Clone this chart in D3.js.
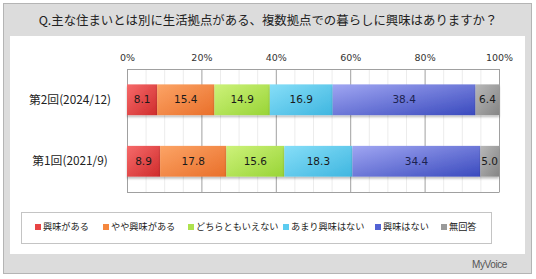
<!DOCTYPE html>
<html>
<head>
<meta charset="utf-8">
<script src="https://cdn.jsdelivr.net/npm/d3@7"></script>
<style>
  body { margin: 0; background: #fff; }
  svg { display: block; }
</style>
</head>
<body>
<script>
// data
var title = "Q.主な住まいとは別に生活拠点がある、複数拠点での暮らしに興味はありますか？";
var categories = ["第2回(2024/12)", "第1回(2021/9)"];
var seriesNames = ["興味がある", "やや興味がある", "どちらともいえない", "あまり興味はない", "興味はない", "無回答"];
var round2 = [8.1, 15.4, 14.9, 16.9, 38.4, 6.4];
var round1 = [8.9, 17.8, 15.6, 18.3, 34.4, 5.0];
var tickValues = [0, 20, 40, 60, 80, 100];

// light / dark ends of each bar gradient
var colLight = ["#f66a6a", "#fca466", "#cdf27a", "#86def8", "#a0a6f2", "#b8b8b8"];
var colDark = ["#cf2c2c", "#e96f2a", "#98d436", "#3fb6e0", "#3a4abe", "#858585"];
var swatch = ["#e84444", "#f5873e", "#aee24e", "#5cccf0", "#5262d4", "#9a9a9a"];

var width = 536, height = 279;
var rows = [round2, round1];

var svg = d3.select("body").append("svg")
    .attr("width", width)
    .attr("height", height);

var defs = svg.append("defs");
seriesNames.forEach(function(s, i) {
    var g = defs.append("linearGradient")
        .attr("id", "grad" + i)
        .attr("x1", "0%").attr("y1", "0%")
        .attr("x2", "100%").attr("y2", "100%");
    g.append("stop").attr("offset", "0%").attr("stop-color", colLight[i]);
    g.append("stop").attr("offset", "100%").attr("stop-color", colDark[i]);
});
var shadow = defs.append("filter").attr("id", "shadow")
    .attr("x", "-5%").attr("y", "-20%").attr("width", "110%").attr("height", "160%");
shadow.append("feDropShadow")
    .attr("dx", 0).attr("dy", 2).attr("stdDeviation", 1.2)
    .attr("flood-color", "#000").attr("flood-opacity", 0.25);

// frame
svg.append("rect")
    .attr("x", 3.5).attr("y", 3.5)
    .attr("width", 528).attr("height", 270)
    .attr("fill", "#dcdcdc")
    .attr("stroke", "#b4b4b4");
svg.append("rect")
    .attr("x", 10).attr("y", 36)
    .attr("width", 515).attr("height", 218)
    .attr("fill", "#fff");

svg.append("text")
    .attr("x", 268).attr("y", 25)
    .attr("text-anchor", "middle")
    .attr("font-family", "'Noto Sans CJK JP', sans-serif")
    .attr("font-size", 12.4)
    .attr("fill", "#222")
    .text(title);

// plot area
var plot = {left: 127, right: 499, top: 69, bottom: 192};

var x = d3.scaleLinear()
    .domain([0, 100])
    .range([plot.left, plot.right]);

var y = d3.scaleBand()
    .domain(categories)
    .range([plot.top, plot.bottom])
    .paddingInner(0.5)
    .paddingOuter(0.25);

// minor grid every 5%
svg.append("g")
    .selectAll("line")
    .data(d3.range(5, 100, 5).filter(function(d) { return d % 20 != 0; }))
    .enter()
    .append("line")
    .attr("x1", function(d) { return x(d) + 0.5; })
    .attr("x2", function(d) { return x(d) + 0.5; })
    .attr("y1", plot.top)
    .attr("y2", plot.bottom)
    .attr("stroke", "#ececec");

// major grid + axis labels on top
var xAxis = d3.axisTop(x)
    .tickValues(tickValues)
    .tickSize(-(plot.bottom - plot.top))
    .tickPadding(8)
    .tickFormat(function(d) { return d + "%"; });

var axisG = svg.append("g")
    .attr("transform", "translate(0," + plot.top + ")")
    .call(xAxis);
axisG.select(".domain").remove();
axisG.selectAll(".tick line")
    .attr("stroke", "#a0a0a0");
axisG.selectAll(".tick text")
    .attr("font-family", "'DejaVu Sans', Verdana, sans-serif")
    .attr("font-size", 9.5)
    .attr("fill", "#333");

// plot border lines
svg.append("line")
    .attr("x1", plot.left).attr("x2", plot.right + 0.5)
    .attr("y1", plot.bottom + 0.5).attr("y2", plot.bottom + 0.5)
    .attr("stroke", "#a0a0a0");
svg.append("line")
    .attr("x1", plot.left + 0.5).attr("x2", plot.right + 0.5)
    .attr("y1", plot.top + 0.5).attr("y2", plot.top + 0.5)
    .attr("stroke", "#a0a0a0");

// stacked bars
var rowG = svg.selectAll("g.row")
    .data(rows)
    .enter()
    .append("g")
    .attr("class", "row")
    .attr("transform", function(d, i) {
        return "translate(0," + y(categories[i]) + ")";
    });

var segs = rowG.selectAll("g.seg")
    .data(function(d) {
        var acc = 0;
        return d.map(function(v, j) {
            var s = {start: acc, value: v, idx: j};
            acc += v;
            return s;
        });
    })
    .enter()
    .append("g")
    .attr("class", "seg");

segs.append("rect")
    .attr("x", function(d) { return x(d.start); })
    .attr("y", 0)
    .attr("width", function(d) { return x(d.start + d.value) - x(d.start); })
    .attr("height", y.bandwidth())
    .attr("fill", function(d) { return "url(#grad" + d.idx + ")"; })
    .attr("filter", "url(#shadow)");

segs.append("text")
    .attr("x", function(d) { return x(d.start + d.value / 2); })
    .attr("y", y.bandwidth() / 2)
    .attr("dy", "0.35em")
    .attr("text-anchor", "middle")
    .attr("font-family", "'DejaVu Sans', Verdana, sans-serif")
    .attr("font-size", 10.5)
    .attr("fill", function(d) { return d.idx == 4 ? "#1c2350" : "#1a1a1a"; })
    .text(function(d) { return d.value.toFixed(1); });

// category labels
svg.selectAll("text.cat")
    .data(categories)
    .enter()
    .append("text")
    .attr("class", "cat")
    .attr("x", 70)
    .attr("y", function(d) { return y(d) + y.bandwidth() / 2; })
    .attr("dy", "0.35em")
    .attr("text-anchor", "middle")
    .attr("font-family", "'Noto Sans CJK JP', sans-serif")
    .attr("font-size", 11.8)
    .attr("fill", "#222")
    .text(function(d) { return d; });

// legend
svg.append("rect")
    .attr("x", 21.5).attr("y", 212.5)
    .attr("width", 470).attr("height", 31)
    .attr("fill", "#fff")
    .attr("stroke", "#c4c4c4");

var legendX = [35, 103, 188, 283, 375, 441];
seriesNames.forEach(function(name, i) {
    var item = svg.append("g").attr("transform", "translate(" + legendX[i] + ",227)");
    item.append("rect")
        .attr("x", 0).attr("y", -3)
        .attr("width", 6).attr("height", 6)
        .attr("fill", swatch[i]);
    item.append("text")
        .attr("x", 8)
        .attr("dy", "0.35em")
        .attr("font-family", "'Noto Sans CJK JP', sans-serif")
        .attr("font-size", 9.2)
        .attr("fill", "#222")
        .text(name);
});

// logo
svg.append("text")
    .attr("x", 507).attr("y", 268)
    .attr("text-anchor", "end")
    .attr("font-family", "'Liberation Sans', sans-serif")
    .attr("font-size", 10)
    .attr("letter-spacing", -0.4)
    .attr("fill", "#555")
    .text("MyVoice");
</script>
</body>
</html>
